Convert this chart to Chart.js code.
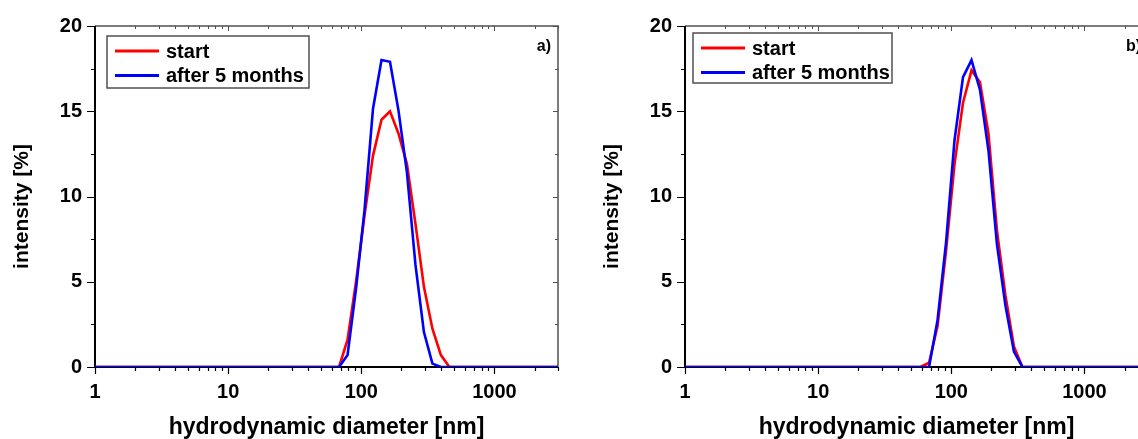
<!DOCTYPE html>
<html>
<head>
<meta charset="utf-8">
<script src="https://cdn.jsdelivr.net/npm/chart.js@4.4.1/dist/chart.umd.min.js"></script>
<style>
  html, body { margin: 0; padding: 0; background: #fff; overflow: hidden; width: 1138px; height: 439px; }
  .panel { position: absolute; top: 0; width: 580px; height: 439px; }
  #panelA { left: 0; }
  #panelB { left: 590px; }
</style>
</head>
<body>
<div class="panel" id="panelA"><canvas id="chartA" width="580" height="439"></canvas></div>
<div class="panel" id="panelB"><canvas id="chartB" width="580" height="439"></canvas></div>
<script>
// size classes of the instrument [nm]
const sizes = [
  0.8332, 0.9649, 1.117, 1.294, 1.499, 1.736, 2.010, 2.328, 2.696, 3.122,
  3.615, 4.187, 4.849, 5.615, 6.503, 7.531, 8.721, 10.10, 11.70, 13.54,
  15.69, 18.17, 21.04, 24.36, 28.21, 32.67, 37.84, 43.82, 50.75,
  58.77, 68.06, 78.82, 91.28, 105.7, 122.4, 141.8, 164.2, 190.1, 220.2,
  255.0, 295.3, 342.0, 396.1, 458.7,
  531.2, 615.1, 712.4, 825.0, 955.4, 1106, 1281, 1484, 1718, 1990,
  2305, 2669, 3091, 3580
];

// intensity [%], panel a)
const startA = [
  0, 0, 0, 0, 0, 0, 0, 0, 0, 0, 0, 0, 0, 0, 0, 0, 0, 0, 0, 0, 0, 0, 0, 0, 0, 0, 0, 0, 0,
  0, 0, 1.6, 5.0, 8.9, 12.4, 14.5, 15.0, 13.7, 11.9, 8.4, 4.7, 2.25, 0.7, 0,
  0, 0, 0, 0, 0, 0, 0, 0, 0, 0, 0, 0, 0, 0
];
const monthsA = [
  0, 0, 0, 0, 0, 0, 0, 0, 0, 0, 0, 0, 0, 0, 0, 0, 0, 0, 0, 0, 0, 0, 0, 0, 0, 0, 0, 0, 0,
  0, 0, 0.7, 4.6, 9.2, 15.15, 18.0, 17.9, 15.05, 11.4, 6.0, 2.05, 0.2, 0, 0,
  0, 0, 0, 0, 0, 0, 0, 0, 0, 0, 0, 0, 0, 0
];

// intensity [%], panel b)
const startB = [
  0, 0, 0, 0, 0, 0, 0, 0, 0, 0, 0, 0, 0, 0, 0, 0, 0, 0, 0, 0, 0, 0, 0, 0, 0, 0, 0, 0, 0,
  0, 0.25, 2.4, 6.8, 11.9, 15.5, 17.4, 16.7, 13.7, 8.0, 4.2, 1.2, 0, 0, 0,
  0, 0, 0, 0, 0, 0, 0, 0, 0, 0, 0, 0, 0, 0
];
const monthsB = [
  0, 0, 0, 0, 0, 0, 0, 0, 0, 0, 0, 0, 0, 0, 0, 0, 0, 0, 0, 0, 0, 0, 0, 0, 0, 0, 0, 0, 0,
  0, 0, 2.75, 7.3, 13.3, 17.0, 18.0, 16.25, 12.7, 7.2, 3.6, 0.9, 0, 0, 0,
  0, 0, 0, 0, 0, 0, 0, 0, 0, 0, 0, 0, 0, 0
];

const seriesNames = ['start', 'after 5 months'];
const seriesColors = ['#ff0000', '#0000ff'];
const xLabels = [1, 10, 100, 1000];
const yTicks = [0, 5, 10, 15, 20];
const xMax = 3000;
const yTitle = 'intensity [%]';

const FONT = "'Liberation Sans', Arial, sans-serif";

// minor ticks of the log axis: 2..9 times each decade
const xTickValues = [];
xLabels.forEach(d => {
  for (let m = 1; m <= 9; m++) {
    if (d * m <= xMax) xTickValues.push(d * m);
  }
});

const framePlugin = {
  id: 'frame',
  beforeDatasetsDraw(chart) {
    const { ctx, chartArea: a, scales: { x, y } } = chart;
    ctx.save();
    // top and right frame, ticks inward
    ctx.strokeStyle = '#505050';
    ctx.lineWidth = 1.5;
    ctx.beginPath();
    ctx.moveTo(a.left, a.top);
    ctx.lineTo(a.right, a.top);
    ctx.lineTo(a.right, a.bottom);
    ctx.stroke();
    ctx.lineWidth = 1;
    ctx.beginPath();
    xTickValues.forEach(v => {
      const px = Math.round(x.getPixelForValue(v)) + 0.5;
      const len = xLabels.includes(v) ? 5 : 3;
      ctx.moveTo(px, a.top);
      ctx.lineTo(px, a.top + len);
    });
    for (let v = 0; v <= 20; v += 2.5) {
      const py = Math.round(y.getPixelForValue(v)) + 0.5;
      const len = yTicks.includes(v) ? 5 : 3;
      ctx.moveTo(a.right, py);
      ctx.lineTo(a.right - len, py);
    }
    ctx.stroke();

    // left and bottom axes, ticks outward
    ctx.strokeStyle = '#000';
    ctx.lineWidth = 1.2;
    ctx.beginPath();
    xTickValues.forEach(v => {
      const px = Math.round(x.getPixelForValue(v)) + 0.5;
      const len = xLabels.includes(v) ? 7 : 4;
      ctx.moveTo(px, a.bottom);
      ctx.lineTo(px, a.bottom + len);
    });
    for (let v = 0; v <= 20; v += 2.5) {
      const py = Math.round(y.getPixelForValue(v)) + 0.5;
      const len = yTicks.includes(v) ? 8 : 4;
      ctx.moveTo(a.left, py);
      ctx.lineTo(a.left - len, py);
    }
    ctx.stroke();
    ctx.lineWidth = 2;
    ctx.beginPath();
    ctx.moveTo(a.left, a.top);
    ctx.lineTo(a.left, a.bottom);
    ctx.lineTo(a.right, a.bottom);
    ctx.stroke();
    ctx.restore();
  },
  afterDraw(chart, args, opts) {
    const { ctx, chartArea: a } = chart;
    ctx.save();
    // y axis title, sits a bit below the middle of the axis
    ctx.save();
    ctx.translate(a.left - 73, (a.top + a.bottom) / 2 + 10);
    ctx.rotate(-Math.PI / 2);
    ctx.font = 'bold 21px ' + FONT;
    ctx.fillStyle = '#000';
    ctx.textAlign = 'center';
    ctx.textBaseline = 'middle';
    ctx.fillText(yTitle, 0, 0);
    ctx.restore();

    // legend box inside the plot
    const bx = a.left + opts.dx, by = a.top + opts.dy;
    ctx.strokeStyle = '#505050';
    ctx.lineWidth = 1.5;
    ctx.strokeRect(bx, by, opts.w, opts.h);
    ctx.font = 'bold 20px ' + FONT;
    ctx.textBaseline = 'middle';
    ctx.textAlign = 'left';
    chart.data.datasets.forEach((ds, i) => {
      const ry = by + 15 + i * 24.5;
      ctx.strokeStyle = ds.borderColor;
      ctx.lineWidth = 3;
      ctx.beginPath();
      ctx.moveTo(bx + 8, ry);
      ctx.lineTo(bx + 52, ry);
      ctx.stroke();
      ctx.fillStyle = '#000';
      ctx.fillText(ds.label, bx + 59, ry + 1);
    });
    // panel tag
    ctx.font = 'bold 16px ' + FONT;
    ctx.textAlign = 'right';
    ctx.fillText(opts.tag, a.right - 7, a.top + 21);
    ctx.restore();
  }
};

function makePanel(id, startVals, monthsVals, tag, box) {
  const series = [startVals, monthsVals];
  new Chart(document.getElementById(id), {
    type: 'line',
    data: {
      datasets: series.map((vals, i) => ({
        label: seriesNames[i],
        data: sizes.map((s, k) => ({ x: s, y: vals[k] })),
        borderColor: seriesColors[i],
        borderWidth: 2.6,
        pointRadius: 0,
        tension: 0,
        fill: false,
        order: 2 - i
      }))
    },
    options: {
      responsive: false,
      animation: false,
      events: [],
      layout: { padding: { left: 0, top: 26, right: 22, bottom: 0 } },
      plugins: {
        legend: { display: false },
        tooltip: { enabled: false },
        frame: Object.assign({ tag: tag }, box)
      },
      scales: {
        x: {
          type: 'logarithmic',
          min: 1,
          max: xMax,
          grid: { display: false, drawTicks: false },
          border: { display: false },
          afterBuildTicks: s => { s.ticks = xTickValues.map(v => ({ value: v })); },
          afterFit: s => { s.height = 72; },
          ticks: {
            autoSkip: false,
            maxRotation: 0,
            minRotation: 0,
            padding: 13,
            color: '#000',
            font: { family: FONT, size: 20, weight: 'bold' },
            callback: v => xLabels.includes(v) ? String(v) : ''
          },
          title: {
            display: true,
            text: 'hydrodynamic diameter [nm]',
            color: '#000',
            font: { family: FONT, size: 23, weight: 'bold' },
            padding: { top: 0, bottom: -2 }
          }
        },
        y: {
          min: 0,
          max: 20,
          grid: { display: false, drawTicks: false },
          border: { display: false },
          afterBuildTicks: s => { s.ticks = yTicks.map(v => ({ value: v })); },
          afterFit: s => { s.width = 95; },
          ticks: {
            padding: 13,
            color: '#000',
            font: { family: FONT, size: 20, weight: 'bold' }
          }
        }
      }
    },
    plugins: [framePlugin]
  });
}

makePanel('chartA', startA, monthsA, 'a)', { dx: 12, dy: 10, w: 202, h: 52 });
makePanel('chartB', startB, monthsB, 'b)', { dx: 8, dy: 7, w: 199, h: 50 });
</script>
</body>
</html>
